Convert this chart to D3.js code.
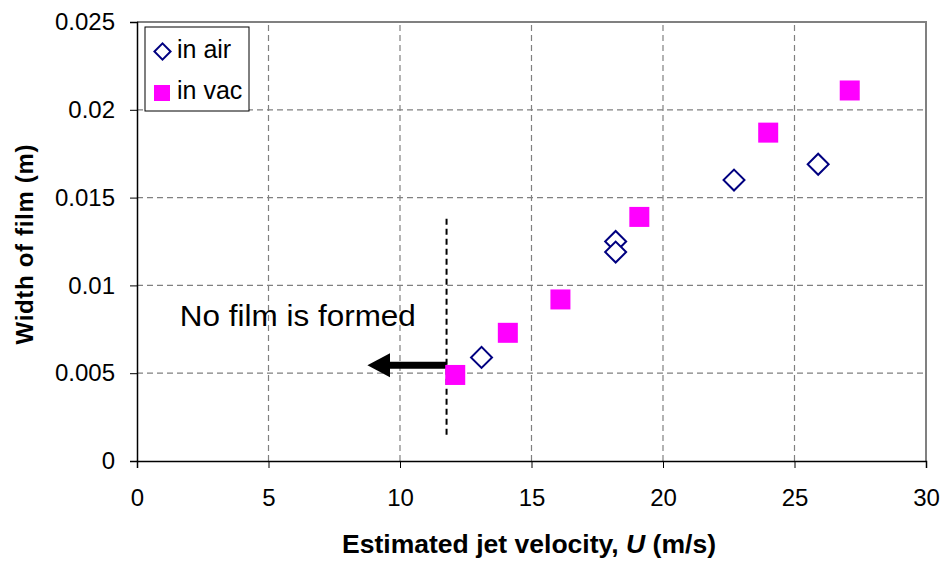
<!DOCTYPE html>
<html>
<head>
  <meta charset='utf-8'>
  <title>Film width</title>
  <script src='https://cdn.jsdelivr.net/npm/d3@7'></script>
  <style>
    body { margin: 0; background: #fff; }
    text { font-family: Arial, 'Liberation Sans', sans-serif; }
  </style>
</head>
<body>
  <script>
    // data
    const airU = [13.1, 18.2, 18.2, 22.7, 25.9];
    const airW = [0.0059, 0.0125, 0.0119, 0.0160, 0.0169];
    const vacU = [12.1, 14.1, 16.1, 19.1, 24.0, 27.1];
    const vacW = [0.0049, 0.0073, 0.0092, 0.0139, 0.0187, 0.0211];
    const xTicks = [0, 5, 10, 15, 20, 25, 30];
    const yTicks = [0, 0.005, 0.01, 0.015, 0.02, 0.025];
    const yTickLabels = ['0', '0.005', '0.01', '0.015', '0.02', '0.025'];
    const limitU = 11.77;

    const width = 943, height = 562;
    const margin = { top: 22, right: 17, bottom: 101, left: 137 };

    const svg = d3.select('body').append('svg')
      .attr('width', width).attr('height', height);

    const x = d3.scaleLinear().domain([0, 30]).range([margin.left, width - margin.right]);
    const y = d3.scaleLinear().domain([0, 0.025]).range([height - margin.bottom, margin.top]);

    // grid
    const grid = svg.append('g')
      .attr('stroke', '#808080').attr('stroke-width', 1.2)
      .attr('stroke-dasharray', '6,4');
    grid.selectAll('.gx').data(xTicks.slice(1, -1)).join('line')
      .attr('x1', d => x(d)).attr('x2', d => x(d))
      .attr('y1', y(0)).attr('y2', y(0.025));
    grid.selectAll('.gy').data(yTicks.slice(1, -1)).join('line')
      .attr('y1', d => y(d)).attr('y2', d => y(d))
      .attr('x1', x(0)).attr('x2', x(30));

    // frame top/right
    svg.append('path')
      .attr('d', `M${x(0)},${y(0.025)}H${x(30)}V${y(0)}`)
      .attr('fill', 'none').attr('stroke', '#808080').attr('stroke-width', 2);

    // axes
    const xAxis = svg.append('g')
      .attr('transform', `translate(0,${y(0)})`)
      .call(d3.axisBottom(x).tickValues(xTicks).tickSize(7).tickPadding(21).tickFormat(d3.format('d')));
    const yAxis = svg.append('g')
      .attr('transform', `translate(${x(0)},0)`)
      .call(d3.axisLeft(y).tickValues(yTicks).tickSize(7).tickPadding(15)
        .tickFormat((d, i) => yTickLabels[i]));
    [xAxis, yAxis].forEach(g => {
      g.select('.domain').attr('stroke', '#000').attr('stroke-width', 1.5);
      g.selectAll('.tick line').attr('stroke', '#000');
      g.selectAll('.tick text').attr('font-size', 24).attr('fill', '#000')
        .style('font-family', 'Arial, "Liberation Sans", sans-serif');
    });
    xAxis.selectAll('.tick text').attr('dy', '0.71em');

    // axis titles
    svg.append('text')
      .attr('x', 342).attr('y', 553)
      .attr('font-size', 26).attr('font-weight', 'bold')
      .attr('textLength', 374).attr('lengthAdjust', 'spacingAndGlyphs')
      .html('Estimated jet velocity, <tspan font-style="italic">U</tspan> (m/s)');
    svg.append('text')
      .attr('transform', `translate(33,${(y(0) + y(0.025)) / 2 + 3}) rotate(-90)`)
      .attr('text-anchor', 'middle').attr('font-size', 24).attr('font-weight', 'bold')
      .attr('textLength', 200).attr('lengthAdjust', 'spacing')
      .text('Width of film (m)');

    // annotation: threshold line and arrow
    svg.append('line')
      .attr('x1', x(limitU)).attr('x2', x(limitU))
      .attr('y1', y(0.0138)).attr('y2', y(0.0014))
      .attr('stroke', '#000').attr('stroke-width', 2).attr('stroke-dasharray', '6,4');
    const ay = y(0.00545);
    svg.append('line')
      .attr('x1', x(limitU)).attr('x2', x(9.5))
      .attr('y1', ay).attr('y2', ay)
      .attr('stroke', '#000').attr('stroke-width', 7);
    svg.append('path')
      .attr('d', `M${x(8.76)},${ay}L${x(9.62)},${ay - 12}L${x(9.62)},${ay + 12}Z`)
      .attr('fill', '#000');
    svg.append('text')
      .attr('x', x(1.63)).attr('y', y(0.0077))
      .attr('font-size', 29).attr('fill', '#000')
      .attr('textLength', 236).attr('lengthAdjust', 'spacingAndGlyphs')
      .text('No film is formed');

    // series
    const diamond = d3.symbol().type(d3.symbolSquare).size(220);
    svg.append('g').selectAll('path').data(airU).join('path')
      .attr('d', diamond)
      .attr('transform', (d, i) => `translate(${x(d)},${y(airW[i])}) rotate(45)`)
      .attr('fill', '#fff').attr('stroke', '#000080').attr('stroke-width', 2);
    svg.append('g').selectAll('rect').data(vacU).join('rect')
      .attr('x', d => x(d) - 10).attr('y', (d, i) => y(vacW[i]) - 10)
      .attr('width', 20).attr('height', 20)
      .attr('fill', '#ff00ff');

    // legend
    const lg = svg.append('g').attr('transform', 'translate(145,27)');
    lg.append('rect').attr('width', 104).attr('height', 84)
      .attr('fill', '#fff').attr('stroke', '#000').attr('stroke-width', 1);
    lg.append('path').attr('d', d3.symbol().type(d3.symbolSquare).size(130))
      .attr('transform', 'translate(17.5,24.5) rotate(45)')
      .attr('fill', '#fff').attr('stroke', '#000080').attr('stroke-width', 2);
    lg.append('rect').attr('x', 9).attr('y', 58).attr('width', 16).attr('height', 16)
      .attr('fill', '#ff00ff');
    lg.append('text').attr('x', 32).attr('y', 30.5).attr('font-size', 25).text('in air');
    lg.append('text').attr('x', 32).attr('y', 72).attr('font-size', 25).text('in vac');
  </script>
</body>
</html>
